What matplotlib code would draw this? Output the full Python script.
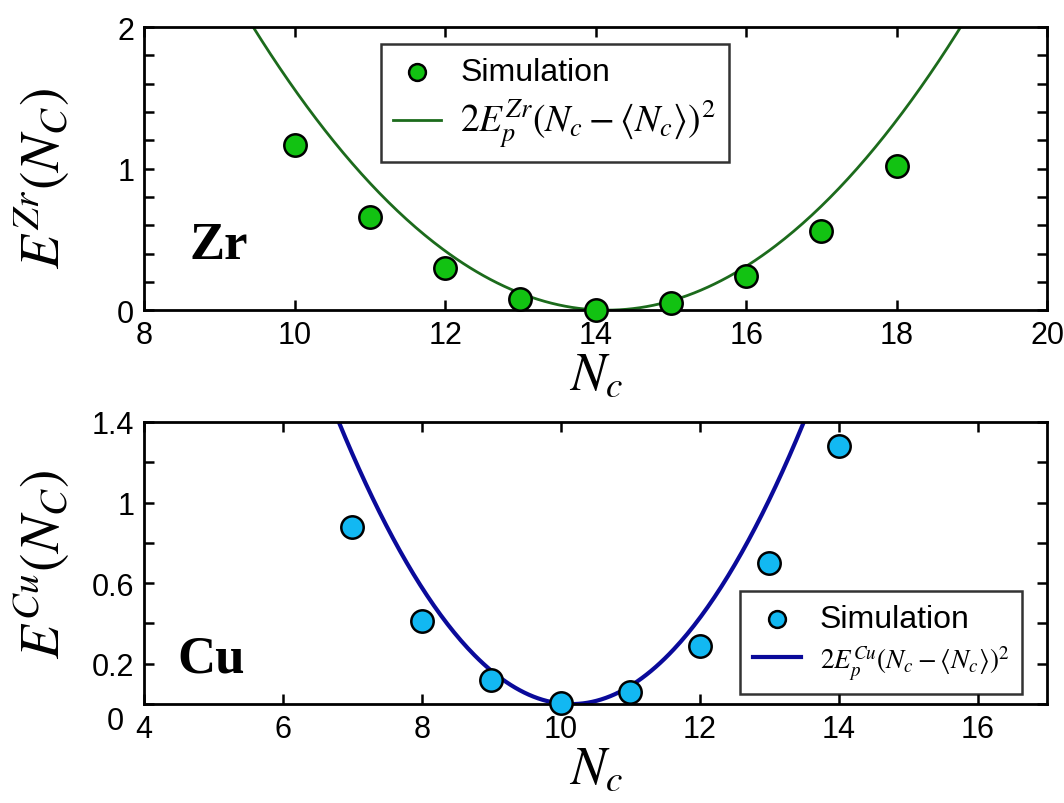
import numpy as np
import matplotlib
matplotlib.use("Agg")
import matplotlib.pyplot as plt
import matplotlib.transforms as mtransforms

plt.rcParams['font.family'] = ['Liberation Sans', 'DejaVu Sans']
plt.rcParams['mathtext.fontset'] = 'stix'

# Zr data
zr_n = [10, 11, 12, 13, 14, 15, 16, 17, 18]
zr_e = [1.17, 0.66, 0.30, 0.08, 0.0, 0.05, 0.24, 0.56, 1.02]
zr_ep = 0.0453      # E_p^Zr
zr_mean = 14.15     # <N_c>

# Cu data
cu_n = [7, 8, 9, 10, 11, 12, 13, 14]
cu_e = [0.88, 0.41, 0.12, 0.005, 0.06, 0.29, 0.70, 1.28]
cu_ep = 0.0625      # E_p^Cu
cu_mean = 10.15     # <N_c>

fig = plt.figure(figsize=(10.64, 8.04), dpi=100)
ax1 = fig.add_axes([0.1353, 0.613, 0.849, 0.352])
ax2 = fig.add_axes([0.1353, 0.123, 0.849, 0.351])


def style(ax):
    for s in ax.spines.values():
        s.set_linewidth(2.0)
    ax.tick_params(which='both', direction='in', top=True, right=True,
                   width=1.8, labelsize=22, pad=7)
    ax.tick_params(which='major', length=7)
    ax.tick_params(which='minor', length=7)


# --- top panel: Zr ---
x = np.linspace(8, 20, 400)
ax1.plot(x, 2 * zr_ep * (x - zr_mean) ** 2, color='#1c6b1c', lw=2,
         label=r'$2E_p^{Zr}(N_c-\langle N_c\rangle)^2$', zorder=2)
ax1.scatter(zr_n, zr_e, s=260, color='#12c212', edgecolor='black',
            linewidth=1.8, label='Simulation', zorder=3, clip_on=False)
ax1.set_xlim(8, 20)
ax1.set_ylim(0, 2)
ax1.set_xticks(np.arange(8, 21, 2))
ax1.set_yticks([0, 1, 2])
ax1.set_yticks(np.arange(0, 2.01, 0.2), minor=True)
style(ax1)
ax1.set_xlabel(r'$N_c$', fontsize=38, labelpad=0)
ax1.set_ylabel(r'$E^{Zr}(N_C)$', fontsize=40)
ax1.yaxis.set_label_coords(-0.08, 0.47)
ax1.text(0.05, 0.23, 'Zr', transform=ax1.transAxes, fontsize=38,
         fontweight='bold', family='Liberation Serif', va='center')
h, l = ax1.get_legend_handles_labels()
leg1 = ax1.legend(h[::-1], l[::-1], loc='upper left',
                  bbox_to_anchor=(0.262, 0.94), fontsize=23, frameon=True,
                  fancybox=False, edgecolor='black', handlelength=1.5,
                  borderpad=0.4, labelspacing=0.3, markerscale=0.75,
                  handletextpad=0.6, borderaxespad=0)
leg1.get_frame().set_linewidth(1.8)
leg1.get_texts()[1].set_fontsize(27)

# --- bottom panel: Cu ---
x = np.linspace(4, 17, 400)
ax2.plot(x, 2 * cu_ep * (x - cu_mean) ** 2, color='#0a0a9a', lw=3,
         label=r'$2E_p^{Cu}(N_c-\langle N_c\rangle)^2$', zorder=2)
ax2.scatter(cu_n, cu_e, s=260, color='#12b8f2', edgecolor='black',
            linewidth=1.8, label='Simulation', zorder=3, clip_on=False)
ax2.set_xlim(4, 17)
ax2.set_ylim(0, 1.4)
ax2.set_xticks(np.arange(4, 17, 2))
yt = np.arange(0, 1.41, 0.2)
ax2.set_yticks(yt)
ax2.set_yticklabels(['0', '0.2', '', '0.6', '', '1', '', '1.4'])
style(ax2)
# the "0" label sits slightly below the axis corner
lab0 = ax2.get_yticklabels()[0]
lab0.set_transform(lab0.get_transform() +
                   mtransforms.ScaledTranslation(-0.1, -0.13, fig.dpi_scale_trans))
ax2.set_xlabel(r'$N_c$', fontsize=38, labelpad=0)
ax2.set_ylabel(r'$E^{Cu}(N_C)$', fontsize=40)
ax2.yaxis.set_label_coords(-0.08, 0.5)
ax2.text(0.037, 0.16, 'Cu', transform=ax2.transAxes, fontsize=38,
         fontweight='bold', family='Liberation Serif', va='center')
h, l = ax2.get_legend_handles_labels()
leg2 = ax2.legend(h[::-1], l[::-1], loc='lower left',
                  bbox_to_anchor=(0.66, 0.035), fontsize=23, frameon=True,
                  fancybox=False, edgecolor='black', handlelength=1.5,
                  borderpad=0.4, labelspacing=0.3, markerscale=0.75,
                  handletextpad=0.6, borderaxespad=0)
leg2.get_frame().set_linewidth(1.8)
leg2.get_texts()[1].set_fontsize(19.5)

fig.savefig('out.png', dpi=100)
